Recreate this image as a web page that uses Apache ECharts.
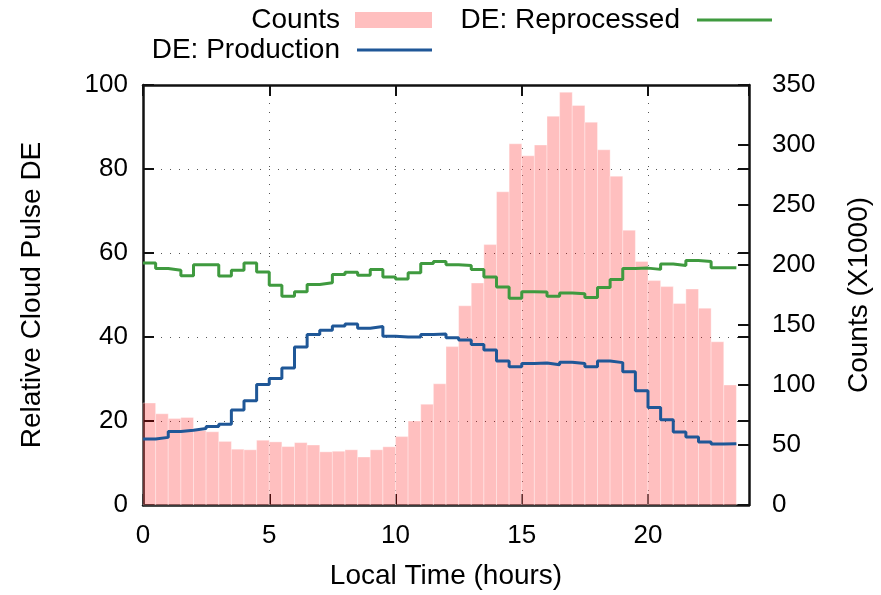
<!DOCTYPE html>
<html>
<head>
<meta charset="utf-8">
<script src="https://cdn.jsdelivr.net/npm/echarts@6/dist/echarts.min.js"></script>
<style>
  html, body { margin: 0; padding: 0; background: #fff; }
  #chart { width: 881px; height: 595px; }
</style>
</head>
<body>
<div id="chart"></div>
<script>
// half-hour bins, start of each bin (hours)
const binStarts = [0, 0.5, 1, 1.5, 2, 2.5, 3, 3.5, 4, 4.5, 5, 5.5, 6, 6.5, 7, 7.5,
  8, 8.5, 9, 9.5, 10, 10.5, 11, 11.5, 12, 12.5, 13, 13.5, 14, 14.5, 15, 15.5,
  16, 16.5, 17, 17.5, 18, 18.5, 19, 19.5, 20, 20.5, 21, 21.5, 22, 22.5, 23];
const binWidth = 0.5;

// counts (x1000), right axis
const counts = [85, 76, 72, 73, 62, 61, 53, 46.5, 46, 54, 52.6, 48.7, 52, 50, 44.3, 44.8,
  46, 40, 46, 48.5, 57, 70, 84, 101, 132, 166, 185, 217, 261, 301, 291, 300,
  324, 344, 333, 319, 296, 274, 229, 203, 187, 182, 168, 180, 164, 136, 100];

// relative cloud pulse DE, left axis
const production = [15.7, 16.1, 17.5, 17.8, 18.2, 18.7, 19.2, 22.6, 24.8, 28.7, 30.1, 32.6,
  37.6, 40.6, 41.6, 42.6, 43.1, 42.1, 42.5, 40.2, 40.0, 40.0, 40.6, 40.7,
  39.8, 39.3, 38.2, 36.9, 34.3, 32.9, 33.7, 33.8, 33.4, 34.0, 33.7, 32.9,
  34.3, 33.9, 31.7, 27.2, 23.2, 20.3, 17.4, 16.2, 15.0, 14.5, 14.6];
const reprocessed = [57.6, 56.3, 55.9, 54.6, 57.2, 57.2, 54.5, 55.9, 57.6, 55.5, 52.3, 49.7,
  50.8, 52.5, 52.9, 54.9, 55.4, 54.7, 56.1, 54.3, 53.8, 55.3, 57.5, 58.0,
  57.2, 57.0, 56.1, 54.3, 51.9, 49.2, 50.8, 50.7, 49.7, 50.5, 50.3, 49.4,
  51.8, 53.7, 56.3, 56.4, 56.1, 57.4, 57.0, 58.2, 58.0, 56.5, 56.5];

// axis ticks
const leftTicks = [0, 20, 40, 60, 80, 100];
const rightTicks = [0, 50, 100, 150, 200, 250, 300, 350];
const leftMax = 100;
const rightMax = 350;

const FONT = 'Liberation Sans';
const PINK = 'rgba(255,0,0,0.25)';
const BLUE = '#1f5797';
const GREEN = '#3f9a3f';

function stepData(values) {
  const pts = binStarts.map((x, i) => [x, values[i]]);
  // close the last bin
  pts.push([binStarts[binStarts.length - 1] + binWidth, values[values.length - 1]]);
  return pts;
}

const tickText = () => ({ fontFamily: FONT, fontSize: 26, color: '#000' });
const nameText = () => ({ fontFamily: FONT, fontSize: 28, color: '#000' });
const dotted = () => ({ color: '#555', width: 1, type: [1, 8] });
const blackLine = () => ({ show: true, onZero: false, lineStyle: { color: '#111', width: 2.5 } });
const inTick = () => ({ show: true, inside: true, length: 11, lineStyle: { color: '#111', width: 2 } });

const chart = echarts.init(document.getElementById('chart'));

// right edge also carries the left axis ticks (gnuplot mirror)
const rightTickMarks = rightTicks.concat(leftTicks.map(v => v * rightMax / leftMax));

chart.setOption({
  animation: false,
  backgroundColor: '#fff',
  grid: { left: 143, right: 132, top: 85, bottom: 89 },
  legend: [
    {
      data: [{ name: 'Counts', icon: 'rect' }],
      right: 449, top: 6, padding: 0, align: 'right', selectedMode: false,
      itemWidth: 77, itemHeight: 16,
      textStyle: Object.assign({ padding: [0, 10, 0, 0] }, nameText())
    },
    {
      data: [{ name: 'DE: Reprocessed', icon: 'rect' }],
      right: 109, top: 6, padding: 0, align: 'right', selectedMode: false,
      itemWidth: 75, itemHeight: 3,
      textStyle: Object.assign({ padding: [0, 12, 0, 0] }, nameText())
    },
    {
      data: [{ name: 'DE: Production', icon: 'rect' }],
      right: 449, top: 36, padding: 0, align: 'right', selectedMode: false,
      itemWidth: 75, itemHeight: 3,
      textStyle: Object.assign({ padding: [0, 12, 0, 0] }, nameText())
    }
  ],
  xAxis: [
    {
      type: 'value', min: 0, max: 24, interval: 5, position: 'bottom',
      name: 'Local Time (hours)', nameLocation: 'middle', nameGap: 57,
      nameTextStyle: nameText(),
      axisLine: blackLine(), axisTick: inTick(),
      axisLabel: Object.assign({ margin: 18, showMaxLabel: false }, tickText()),
      splitLine: { show: true, lineStyle: dotted() }
    },
    {
      // mirrored ticks along the top edge
      type: 'value', min: 0, max: 24, interval: 5, position: 'top',
      axisLine: blackLine(), axisTick: inTick(),
      axisLabel: { show: false }, splitLine: { show: false }
    }
  ],
  yAxis: [
    {
      type: 'value', min: 0, max: leftMax, interval: 20, position: 'left',
      name: 'Relative Cloud Pulse DE', nameLocation: 'middle', nameGap: 97, nameRotate: 90,
      nameTextStyle: nameText(),
      axisLine: blackLine(), axisTick: inTick(),
      axisLabel: Object.assign({ margin: 15 }, tickText()),
      splitLine: { show: true, lineStyle: dotted() }
    },
    {
      type: 'value', min: 0, max: rightMax, interval: 50, position: 'right',
      name: 'Counts (X1000)', nameLocation: 'middle', nameGap: 96, nameRotate: 90,
      nameTextStyle: nameText(),
      axisLine: blackLine(),
      axisTick: Object.assign(inTick(), { customValues: rightTickMarks }),
      axisLabel: Object.assign({ margin: 23, customValues: rightTicks }, tickText()),
      splitLine: { show: false }
    }
  ],
  series: [
    {
      name: 'Counts',
      type: 'custom',
      xAxisIndex: 0,
      yAxisIndex: 1,
      itemStyle: { color: PINK },
      encode: { x: [0, 1], y: 2 },
      data: binStarts.map((x, i) => [x, x + binWidth, counts[i]]),
      renderItem: function (params, api) {
        const p0 = api.coord([api.value(0), api.value(2)]);
        const p1 = api.coord([api.value(1), 0]);
        return {
          type: 'rect',
          shape: { x: p0[0], y: p0[1], width: p1[0] - p0[0], height: p1[1] - p0[1] },
          style: { fill: PINK, stroke: 'rgba(255,255,255,0.35)', lineWidth: 1 }
        };
      }
    },
    {
      name: 'DE: Reprocessed',
      type: 'line',
      step: 'end',
      yAxisIndex: 0,
      symbol: 'none',
      color: GREEN,
      lineStyle: { color: GREEN, width: 3 },
      data: stepData(reprocessed)
    },
    {
      name: 'DE: Production',
      type: 'line',
      step: 'end',
      yAxisIndex: 0,
      symbol: 'none',
      color: BLUE,
      lineStyle: { color: BLUE, width: 3 },
      data: stepData(production)
    }
  ]
});

window.addEventListener('resize', () => {
  if (chart) {
    chart.resize();
  }
});
</script>
</body>
</html>
